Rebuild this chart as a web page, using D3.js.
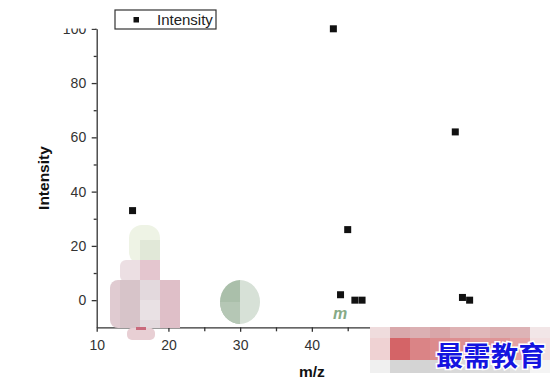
<!DOCTYPE html>
<html>
<head>
<meta charset="utf-8">
<script src="https://cdn.jsdelivr.net/npm/d3@7"></script>
<style>
  body { margin: 0; background: #fff; }
  svg { display: block; font-family: "Liberation Sans", Arial, sans-serif; }
</style>
</head>
<body>
<svg id="chart" width="559" height="387"></svg>
<script>
// data
const mz = [15, 43, 44, 45, 46, 47, 60, 61, 62];
const intensity = [33, 100, 2, 26, 0, 0, 62, 1, 0];
const xTicks = [10, 20, 30, 40, 50, 60, 70];
const xLabelled = [10, 20, 30, 40]; // the rest sit under the watermark
const xMinor = [15, 25, 35, 45, 55, 65];
const yTicks = [0, 20, 40, 60, 80, 100];
const yMinor = [10, 30, 50, 70, 90];

const svg = d3.select('#chart');
const axisColor = '#333';

const x = d3.scaleLinear().domain([10, 70]).range([96.7, 527]);
const y = d3.scaleLinear().domain([-10, 100]).range([327.3, 28.8]);

const styleAxis = g => {
  g.selectAll('path, line').attr('stroke', axisColor).attr('stroke-width', 1.3);
  g.selectAll('text').attr('fill', axisColor).attr('font-size', '14px')
    .attr('font-family', '"Liberation Sans", Arial, sans-serif');
};

// x axis
svg.append('g')
  .attr('transform', `translate(0,${y(-10)})`)
  .call(d3.axisBottom(x).tickValues(xTicks).tickSize(4.5).tickSizeOuter(0).tickPadding(8)
    .tickFormat(d => xLabelled.includes(d) ? d : ''))
  .call(styleAxis);
svg.append('g')
  .attr('transform', `translate(0,${y(-10)})`)
  .call(d3.axisBottom(x).tickValues(xMinor).tickSize(4).tickFormat(''))
  .call(g => g.select('.domain').remove())
  .call(styleAxis);

// y axis
svg.append('g')
  .attr('transform', `translate(${x(10)},0)`)
  .call(d3.axisLeft(y).tickValues(yTicks).tickSize(5).tickSizeOuter(0).tickPadding(5.5))
  .call(styleAxis);
svg.append('g')
  .attr('transform', `translate(${x(10)},0)`)
  .call(d3.axisLeft(y).tickValues(yMinor).tickSize(3).tickFormat(''))
  .call(g => g.select('.domain').remove())
  .call(styleAxis);

// top of the picture is cut off in the original
svg.append('rect')
  .attr('x', 50).attr('y', 0).attr('width', 45).attr('height', 28.5)
  .attr('fill', '#fff');

// axis titles
svg.append('text')
  .attr('x', (x(10) + x(70)) / 2)
  .attr('y', 377)
  .attr('text-anchor', 'middle')
  .attr('font-size', '15.5px')
  .attr('font-weight', 'bold')
  .attr('fill', '#111')
  .text('m/z');

svg.append('text')
  .attr('transform', `translate(49,${(y(-10) + y(100)) / 2}) rotate(-90)`)
  .attr('text-anchor', 'middle')
  .attr('font-size', '15.5px')
  .attr('font-weight', 'bold')
  .attr('fill', '#111')
  .text('Intensity');

// points
const size = 7;
svg.append('g')
  .selectAll('rect')
  .data(mz.map((d, i) => [d, intensity[i]]))
  .join('rect')
  .attr('x', d => x(d[0]) - size / 2)
  .attr('y', d => y(d[1]) - size / 2)
  .attr('width', size)
  .attr('height', size)
  .attr('fill', '#111');

// legend
const legend = svg.append('g').attr('transform', 'translate(115,10)');
legend.append('rect')
  .attr('width', 101).attr('height', 19)
  .attr('fill', '#fff')
  .attr('stroke', axisColor).attr('stroke-width', 1.2);
legend.append('rect')
  .attr('x', 18.5).attr('y', 7).attr('width', 5.5).attr('height', 5.5)
  .attr('fill', '#111');
legend.append('text')
  .attr('x', 42).attr('y', 14.5)
  .attr('font-size', '15px')
  .attr('fill', '#222')
  .text('Intensity');

// watermark bits that sit on the original image
const wm = svg.append('g');

// thumbs-up blob
wm.append('rect').attr('x', 129).attr('y', 225).attr('width', 31).attr('height', 40)
  .attr('rx', 13).attr('fill', '#eef3e5');
wm.append('rect').attr('x', 140).attr('y', 240).attr('width', 20).attr('height', 22)
  .attr('fill', '#e1e8d8');
wm.append('rect').attr('x', 120).attr('y', 260).attr('width', 40).attr('height', 22)
  .attr('rx', 6).attr('fill', '#ecdfe3');
wm.append('rect').attr('x', 140).attr('y', 260).attr('width', 20).attr('height', 22)
  .attr('fill', '#e4c6cf');
wm.append('rect').attr('x', 110).attr('y', 280).attr('width', 70).attr('height', 48)
  .attr('rx', 8).attr('fill', '#e0cbd1');
const bodyCols = [[120, '#d7c4c9'], [140, '#e3d9dd'], [160, '#dfbfc8']];
bodyCols.forEach(([bx, c]) => {
  wm.append('rect').attr('x', bx).attr('y', 280).attr('width', 20).attr('height', 48).attr('fill', c);
});
wm.append('rect').attr('x', 140).attr('y', 300).attr('width', 20).attr('height', 20).attr('fill', '#e9e1e4');
wm.append('rect').attr('x', 127).attr('y', 328).attr('width', 28).attr('height', 12)
  .attr('rx', 5).attr('fill', '#e8cfd4');
wm.append('rect').attr('x', 136).attr('y', 327).attr('width', 10).attr('height', 3)
  .attr('fill', '#c96a7c');

// green blob
wm.append('clipPath').attr('id', 'gclip')
  .append('ellipse').attr('cx', 240).attr('cy', 302).attr('rx', 20).attr('ry', 22);
const gb = wm.append('g').attr('clip-path', 'url(#gclip)');
gb.append('rect').attr('x', 218).attr('y', 278).attr('width', 22).attr('height', 48).attr('fill', '#aabfaa');
gb.append('rect').attr('x', 240).attr('y', 278).attr('width', 22).attr('height', 48).attr('fill', '#d7e1d7');
gb.append('rect').attr('x', 218).attr('y', 302).attr('width', 22).attr('height', 24).attr('fill', '#b5c7b5');

// green "m"
wm.append('text')
  .attr('x', 333).attr('y', 319)
  .attr('font-size', '16px').attr('font-style', 'italic').attr('font-weight', 'bold')
  .attr('fill', '#86aa86')
  .text('m');

// pink mosaic bar
const rowsTop = ['#efdcdd', '#d9a8ab', '#dbb0b3', '#d9a6a9', '#deb2b4', '#e0b7b9', '#dcb0b2', '#ddb3b6', '#f2e6e7'];
const rowsMid = ['#efd2d3', '#d46467', '#da8486', '#dc8b8d', '#dd8e90', '#e09698', '#df9496', '#e4a2a4', '#f3dfe0'];
const rowsBot = ['#f0f0f0', '#d6d6d6', '#d4d4d4', '#d6d6d6', '#d9d9d9', '#dcdcdc', '#dcdcdc', '#e2e2e2', '#f4f4f4'];
[[rowsTop, 327, 11], [rowsMid, 338, 22], [rowsBot, 360, 13]].forEach(([row, ry, rh]) => {
  row.forEach((c, i) => {
    wm.append('rect')
      .attr('x', 370 + i * 20).attr('y', ry)
      .attr('width', 20).attr('height', rh)
      .attr('fill', c);
  });
});

wm.append('text')
  .attr('x', 436).attr('y', 366)
  .attr('font-family', '"Noto Sans CJK SC", sans-serif')
  .attr('font-size', '27px')
  .attr('font-weight', 'bold')
  .attr('fill', '#1414e0')
  .attr('stroke', '#fff').attr('stroke-width', 3)
  .attr('paint-order', 'stroke')
  .attr('letter-spacing', '0.5px')
  .text('最需教育');
</script>
</body>
</html>
